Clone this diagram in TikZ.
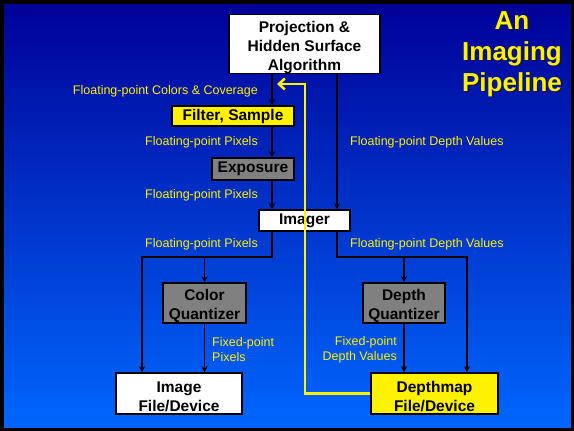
\documentclass[tikz,border=0pt]{standalone}
\usepackage{fontspec}
\setmainfont{Liberation Sans}
\usetikzlibrary{arrows.meta,positioning,calc}
\definecolor{navytop}{RGB}{0,0,150}
\definecolor{bluebot}{RGB}{0,104,255}
\definecolor{stagegray}{RGB}{128,128,128}
\definecolor{titleshadow}{RGB}{20,20,60}

\begin{document}
\begin{tikzpicture}[x=1pt,y=-1pt,
    stage/.style={draw=black,line width=1.5pt,fill=white,inner sep=0pt,align=center,
      font=\fontsize{15.5}{19}\selectfont\bfseries},
    gstage/.style={stage,fill=stagegray},
    ystage/.style={stage,fill=yellow},
    lbl/.style={text=yellow,inner sep=0pt,font=\fontsize{12.5}{15}\selectfont},
    flow/.style={line width=1.5pt,-{Stealth[length=6pt,width=6pt]}}]
        % background and frame
        \useasboundingbox (0,0) rectangle (574,431);
        \fill[top color=navytop,bottom color=bluebot] (0,0) rectangle (574,431);
        \draw[line width=3.5pt] (1.75,1.75) rectangle (572.25,429.25);
        % title
        \node[font=\fontsize{26}{31}\selectfont\bfseries,text=titleshadow,align=center] (ttlsh) at (513.5,55.5) {An\\Imaging\\Pipeline};
        \node[font=\fontsize{26}{31}\selectfont\bfseries,text=yellow,align=center] (ttl) at (512,54) {An\\Imaging\\Pipeline};
        % stages
        \node[stage,minimum width=151pt,minimum height=58pt] (proj) at (304.5,44) {\rule{0pt}{18pt}Projection \&\\Hidden Surface\\Algorithm};
        \node[ystage,minimum width=122pt,minimum height=20pt] (filt) at (233,116) {Filter, Sample};
        \node[gstage,minimum width=82pt,minimum height=22pt] (expo) at (253,169) {Exposure};
        \node[stage,minimum width=91pt,minimum height=21pt] (imgr) at (304.5,220.5) {Imager};
        \node[gstage,minimum width=83pt,minimum height=40pt] (cq) at (204.5,303) {\rule{0pt}{17pt}Color\\Quantizer};
        \node[stage,minimum width=126pt,minimum height=41pt] (imf) at (179,393.5) {\rule{0pt}{17pt}Image\\File/Device};
        \node[gstage,minimum width=82pt,minimum height=40pt] (dq) at (404,303) {\rule{0pt}{17pt}Depth\\Quantizer};
        \node[ystage,minimum width=127pt,minimum height=41pt] (dmf) at (434.5,393.5) {\rule{0pt}{17pt}Depthmap\\File/Device};
        % forks
        \coordinate (lx) at (272,257);
        \coordinate (rx) at (337,257);
        \coordinate (lf) at (142,257);
        \coordinate (rf) at (467,257);
        \coordinate (yc) at (305,84);
        \coordinate (ytip) at (277,84);
        % connectors
        \draw[flow] (proj.south -| lx) -- (filt.north -| lx);
        \draw[flow] (filt.south -| lx) -- (expo.north -| lx);
        \draw[flow] (expo.south -| lx) -- (imgr.north -| lx);
        \draw[flow] (proj.south -| rx) -- (imgr.north -| rx);
        \draw[flow] (imgr.south -| lx) -- (lx) -- (lf) -- (imf.north -| lf);
        \draw[flow] (cq.north |- lx) -- (cq.north);
        \draw[flow] (cq.south) -- (imf.north -| cq.south);
        \draw[flow] (imgr.south -| rx) -- (rx) -- (rf) -- (dmf.north -| rf);
        \draw[flow] (dq.north |- rx) -- (dq.north);
        \draw[flow] (dq.south) -- (dmf.north -| dq.south);
        \draw[yellow,line width=2.5pt,-{Straight Barb[length=6pt,width=11pt]}] (dmf.west) -| (yc) -- (ytip);
        % labels
        \node[lbl,anchor=east] (l1) at (258,91.5) {Floating-point Colors \& Coverage};
        \node[lbl,anchor=east] (l2) at (258,142.5) {Floating-point Pixels};
        \node[lbl,anchor=east] (l3) at (258,195.5) {Floating-point Pixels};
        \node[lbl,anchor=east] (l4) at (258,244.5) {Floating-point Pixels};
        \node[lbl,anchor=west] (r1) at (350,142.5) {Floating-point Depth Values};
        \node[lbl,anchor=west] (r2) at (350,244.5) {Floating-point Depth Values};
        \node[lbl,anchor=west,align=left] (l5) at (212,350) {Fixed-point\\Pixels};
        \node[lbl,anchor=east,align=right] (r3) at (397,350) {Fixed-point\\Depth Values};
\end{tikzpicture}
\end{document}
